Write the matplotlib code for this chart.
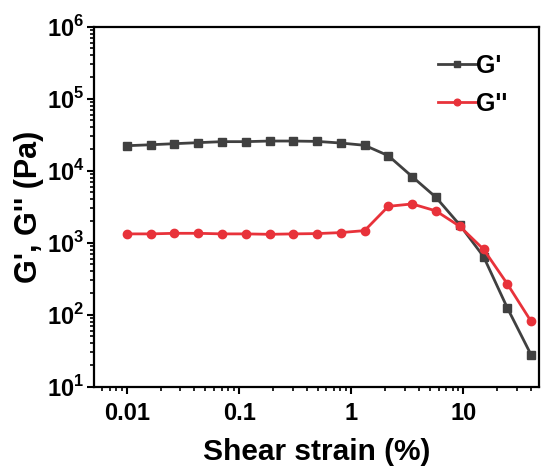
import matplotlib
matplotlib.use("Agg")
import matplotlib.pyplot as plt
import matplotlib.ticker as mticker

plt.rcParams["font.family"] = "Liberation Sans"
plt.rcParams["font.weight"] = "bold"
plt.rcParams["mathtext.fontset"] = "custom"
plt.rcParams["mathtext.rm"] = "Liberation Sans:bold"
plt.rcParams["mathtext.bf"] = "Liberation Sans:bold"

# shear strain (%)
strain = [0.01, 0.0163, 0.0265, 0.0432, 0.0704, 0.115, 0.187, 0.304, 0.496,
          0.807, 1.315, 2.14, 3.49, 5.68, 9.26, 15.1, 24.6, 40.0]
g_storage = [22300, 23000, 23800, 24600, 25400, 25400, 25900, 25900, 25600,
             24300, 22600, 16200, 8300, 4290, 1775, 645, 125, 28]
g_loss = [1330, 1330, 1355, 1355, 1330, 1330, 1312, 1330, 1343,
          1386, 1477, 3210, 3465, 2775, 1695, 813, 269, 81.5]

y_ticks = [10, 100, 1000, 1e4, 1e5, 1e6]
y_labels = ["$10^{1}$", "$10^{2}$", "$10^{3}$", "$10^{4}$", "$10^{5}$", "$10^{6}$"]
x_ticks = [0.01, 0.1, 1, 10]
x_labels = ["0.01", "0.1", "1", "10"]

fig = plt.figure(figsize=(5.41, 4.70), dpi=100)
ax = fig.add_axes([0.174, 0.177, 0.822, 0.766])

ax.plot(strain, g_storage, color="#404040", marker="s", markersize=5.5,
        linewidth=2, label="G'")
ax.plot(strain, g_loss, color="#e8323a", marker="o", markersize=6,
        linewidth=2, label="G''")

ax.set_xscale("log")
ax.set_yscale("log")
ax.set_xlim(0.0051, 47)
ax.set_ylim(10, 1e6)

ax.set_xticks(x_ticks)
ax.set_xticklabels(x_labels)
ax.set_yticks(y_ticks)
ax.set_yticklabels(y_labels)
ax.xaxis.set_minor_locator(mticker.LogLocator(base=10, subs=range(2, 10), numticks=20))
ax.yaxis.set_minor_locator(mticker.LogLocator(base=10, subs=range(2, 10), numticks=20))
ax.xaxis.set_minor_formatter(mticker.NullFormatter())
ax.yaxis.set_minor_formatter(mticker.NullFormatter())

ax.tick_params(which="major", direction="out", length=5, width=1.5, labelsize=17)
ax.tick_params(axis="x", which="major", pad=6)
ax.tick_params(axis="y", which="major", pad=2)
ax.tick_params(which="minor", direction="out", length=3, width=1.2)
for s in ax.spines.values():
    s.set_linewidth(1.6)

ax.set_xlabel("Shear strain (%)", fontsize=21.5, fontweight="bold", labelpad=9)
ax.set_ylabel("G', G'' (Pa)", fontsize=22, fontweight="bold", labelpad=2)

leg = ax.legend(loc="upper right", frameon=False, fontsize=18, handlelength=1.55,
                handletextpad=0.0, labelspacing=0.55, borderaxespad=0.4,
                markerscale=0.8, bbox_to_anchor=(0.975, 0.98))
for t in leg.get_texts():
    t.set_fontweight("bold")

plt.savefig("out.png", dpi=100)
plt.close()
